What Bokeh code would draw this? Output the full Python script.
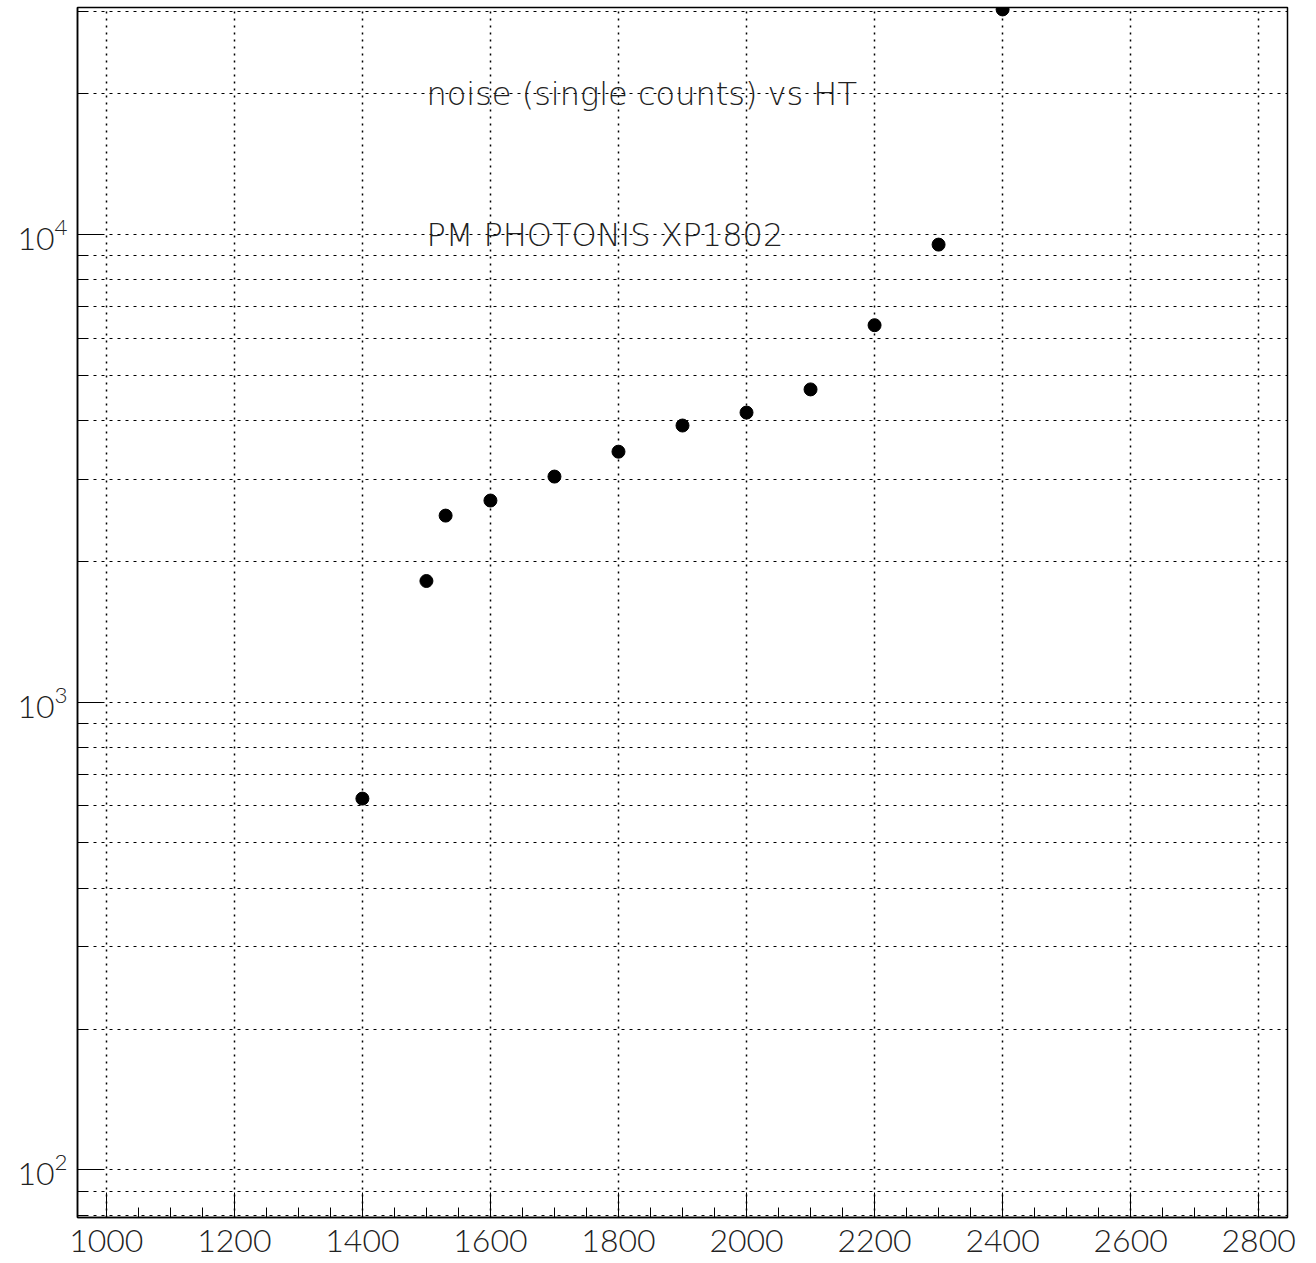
from bokeh.plotting import figure
from bokeh.models import FixedTicker, LogTickFormatter, Range1d, Label
from bokeh.embed import file_html
from bokeh.resources import INLINE

hv = [1400, 1500, 1530, 1600, 1700, 1800, 1900, 2000, 2100, 2200, 2300, 2400]
counts = [622, 1816, 2506, 2699, 3037, 3433, 3905, 4162, 4665, 6400, 9518, 30300]

x_major = [1000, 1200, 1400, 1600, 1800, 2000, 2200, 2400, 2600, 2800]
x_minor = list(range(1000, 2850, 50))
y_major = [100, 1000, 10000]
y_minor = [80, 90] + [m * d for d in (100, 1000) for m in range(2, 10)] + [20000, 30000]

title1 = "noise (single counts) vs HT"
title2 = "PM  PHOTONIS XP1802"

FONT = "'Lato Light', Lato, sans-serif"
TFONT = "'DejaVu Sans ExtraLight', 'DejaVu Sans Light', 'Lato Light', sans-serif"

p = figure(frame_width=1210, frame_height=1210, y_axis_type="log",
           x_range=Range1d(955, 2845), y_range=Range1d(79.06, 30590),
           output_backend="svg", toolbar_location=None,
           min_border_left=77, min_border_top=7, min_border_right=12, min_border_bottom=44)

p.outline_line_color = "black"
p.outline_line_width = 1.5
p.background_fill_color = "white"
p.border_fill_color = "white"

p.xaxis.ticker = FixedTicker(ticks=x_major, minor_ticks=x_minor)
p.yaxis.ticker = FixedTicker(ticks=y_major, minor_ticks=y_minor)
p.yaxis.formatter = LogTickFormatter()

for ax in (p.xaxis, p.yaxis):
    ax.axis_line_color = "black"
    ax.axis_line_width = 1.5
    ax.major_tick_in = 25
    ax.major_tick_out = 0
    ax.minor_tick_in = 10
    ax.minor_tick_out = 0
    ax.major_tick_line_color = "black"
    ax.minor_tick_line_color = "black"
    ax.major_label_text_font = FONT
    ax.major_label_text_font_size = "32px"
    ax.major_label_text_color = "#222222"

p.xaxis.major_label_standoff = 12
p.yaxis.major_label_standoff = 10

p.xgrid.ticker = FixedTicker(ticks=x_major)
p.xgrid.grid_line_color = "black"
p.xgrid.grid_line_dash = "2 5"
p.xgrid.grid_line_width = 1.5

p.ygrid.ticker = FixedTicker(ticks=y_major, minor_ticks=y_minor)
p.ygrid.grid_line_color = "black"
p.ygrid.grid_line_dash = "3 5"
p.ygrid.grid_line_width = 1
p.ygrid.minor_grid_line_color = "black"
p.ygrid.minor_grid_line_dash = "3 5"
p.ygrid.minor_grid_line_width = 1

p.scatter(hv, counts, size=13, color="black")

for txt, yv in ((title1, 20000), (title2, 10000)):
    p.add_layout(Label(x=1500, y=yv, text=txt, text_font=TFONT, text_font_size="32px",
                       text_color="#222222", text_baseline="alphabetic",
                       background_fill_color=None))

open("out.html", "w").write(file_html(p, INLINE))
